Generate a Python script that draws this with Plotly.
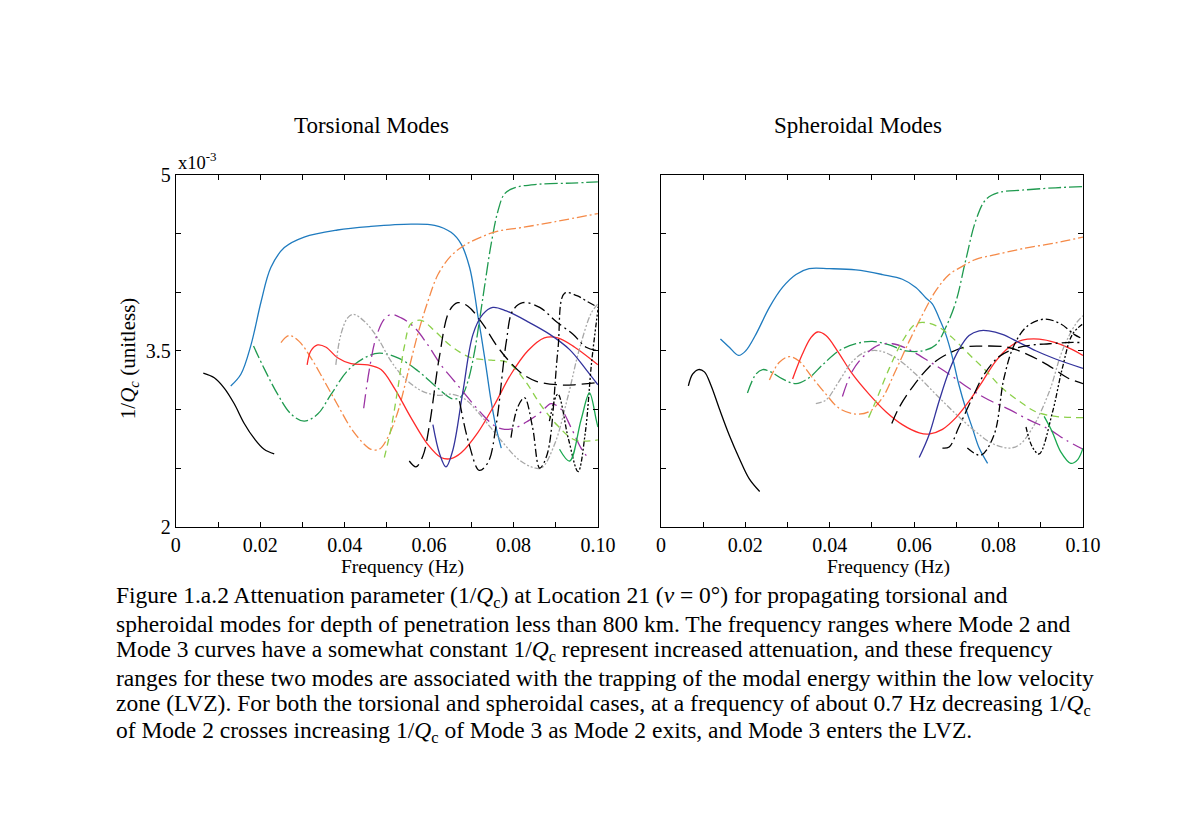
import plotly.graph_objects as go

# values of 1/Qc are in units of 1e-3, frequency in Hz
# ---- Torsional modes ----
tor_m0_x = [0.0065, 0.0091, 0.0115, 0.0138, 0.0162, 0.0186, 0.0209, 0.0233]
tor_m0_y = [3.31, 3.27, 3.18, 3.05, 2.88, 2.75, 2.66, 2.62]

tor_m1_x = [0.0130, 0.0154, 0.0178, 0.0202, 0.0225, 0.0257, 0.0304, 0.0383, 0.0462, 0.0557,
            0.0613, 0.0652, 0.0676, 0.0696, 0.0708, 0.0715, 0.0723, 0.0735, 0.0747, 0.0759, 0.0771]
tor_m1_y = [3.20, 3.30, 3.55, 3.92, 4.21, 4.38, 4.47, 4.53, 4.56, 4.58,
            4.57, 4.51, 4.41, 4.21, 3.98, 3.81, 3.64, 3.36, 3.07, 2.84, 2.67]

tor_m2_x = [0.0184, 0.0209, 0.0241, 0.0273, 0.0304, 0.0336, 0.0368, 0.0407, 0.0447, 0.0482,
            0.0526, 0.0573, 0.0621, 0.0656, 0.0676, 0.0692, 0.0708, 0.0719, 0.0731, 0.0747,
            0.0763, 0.0779, 0.0802, 0.0858, 0.0937, 0.1]
tor_m2_y = [3.54, 3.35, 3.13, 2.96, 2.90, 2.96, 3.13, 3.33, 3.44, 3.48,
            3.44, 3.33, 3.18, 3.09, 3.11, 3.24, 3.50, 3.75, 4.04, 4.41,
            4.69, 4.84, 4.89, 4.92, 4.93, 4.94]

tor_m3_x = [0.0249, 0.0269, 0.0292, 0.0320, 0.0352, 0.0383, 0.0415, 0.0447, 0.0462, 0.0482,
            0.0502, 0.0526, 0.0549, 0.0573, 0.0597, 0.0621, 0.0652, 0.0684, 0.0723, 0.0763,
            0.0818, 0.0897, 0.1]
tor_m3_y = [3.57, 3.63, 3.58, 3.44, 3.24, 3.04, 2.84, 2.70, 2.66, 2.66,
            2.76, 2.98, 3.30, 3.64, 3.92, 4.15, 4.31, 4.40, 4.47, 4.52,
            4.55, 4.60, 4.67]

tor_m4_x = [0.0311, 0.0320, 0.0336, 0.0356, 0.0383, 0.0415, 0.0455, 0.0486, 0.0518, 0.0557,
            0.0597, 0.0628, 0.0652, 0.0676, 0.0715, 0.0755, 0.0794, 0.0834, 0.0873, 0.0905,
            0.0945, 0.1]
tor_m4_y = [3.38, 3.50, 3.55, 3.53, 3.44, 3.39, 3.38, 3.34, 3.18, 2.93,
            2.70, 2.59, 2.58, 2.63, 2.80, 3.04, 3.30, 3.50, 3.61, 3.61,
            3.53, 3.38]

tor_m5_x = [0.0379, 0.0391, 0.0407, 0.0421, 0.0447, 0.0478, 0.0510, 0.0541, 0.0581, 0.0621,
            0.0652, 0.0684, 0.0715, 0.0747, 0.0779, 0.0810, 0.0842, 0.0866, 0.0897, 0.0929,
            0.0955, 0.0984, 0.1]
tor_m5_y = [3.38, 3.64, 3.78, 3.81, 3.75, 3.61, 3.41, 3.27, 3.16, 3.12,
            3.13, 3.09, 2.98, 2.84, 2.70, 2.58, 2.51, 2.50, 2.70, 3.11,
            3.50, 3.82, 3.90]

tor_m6_x = [0.0445, 0.0458, 0.0474, 0.0494, 0.0510, 0.0534, 0.0565, 0.0597, 0.0628, 0.0660,
            0.0692, 0.0723, 0.0755, 0.0779, 0.0802, 0.0834, 0.0866, 0.0889, 0.0913, 0.0937,
            0.0960, 0.0976]
tor_m6_y = [3.01, 3.33, 3.61, 3.77, 3.81, 3.78, 3.70, 3.55, 3.38, 3.24,
            3.10, 2.97, 2.86, 2.83, 2.84, 2.90, 2.98, 3.05, 3.00, 2.84,
            2.67, 2.59]

tor_m7_x = [0.0494, 0.0510, 0.0526, 0.0541, 0.0557, 0.0581, 0.0613, 0.0652, 0.0700, 0.0747,
            0.0787, 0.0826, 0.0866, 0.0905, 0.0945, 0.1]
tor_m7_y = [2.59, 2.84, 3.18, 3.53, 3.73, 3.76, 3.67, 3.54, 3.44, 3.42,
            3.40, 3.25, 3.03, 2.86, 2.74, 2.74]

tor_m8_x = [0.0553, 0.0569, 0.0585, 0.0601, 0.0624, 0.0648, 0.0668, 0.0692, 0.0727, 0.0759,
            0.0790, 0.0822, 0.0854, 0.0905, 0.0944, 0.1]
tor_m8_y = [2.56, 2.51, 2.60, 2.87, 3.44, 3.84, 3.91, 3.88, 3.73, 3.55,
            3.41, 3.30, 3.24, 3.21, 3.21, 3.23]

tor_m9_x = [0.0609, 0.0625, 0.0640, 0.0656, 0.0680, 0.0704, 0.0727, 0.0751, 0.0783, 0.0838,
            0.0886, 0.0933, 0.0972, 0.1]
tor_m9_y = [2.87, 2.62, 2.51, 2.65, 3.15, 3.64, 3.81, 3.87, 3.84, 3.74,
            3.64, 3.51, 3.34, 3.21]

tor_m10_x = [0.0672, 0.0695, 0.0719, 0.0740, 0.0759, 0.0783, 0.0798, 0.0822, 0.0862, 0.0901,
             0.0941, 0.0972, 0.1]
tor_m10_y = [3.07, 2.70, 2.48, 2.55, 2.87, 3.58, 3.84, 3.91, 3.87, 3.75,
             3.64, 3.53, 3.50]

tor_m11_x = [0.0794, 0.0810, 0.0826, 0.0845, 0.0862, 0.0880, 0.0905, 0.0921, 0.0950, 0.0975, 0.1]
tor_m11_y = [2.76, 3.02, 3.10, 2.85, 2.50, 2.62, 3.50, 3.99, 3.97, 3.92, 3.87]

tor_m12_x = [0.0885, 0.0905, 0.0930, 0.0953, 0.0970, 0.0985, 0.1]
tor_m12_y = [2.90, 3.13, 2.75, 2.47, 2.80, 3.40, 3.85]

tor_m13_x = [0.0909, 0.0933, 0.0960, 0.0980, 0.0996, 0.1]
tor_m13_y = [2.66, 2.56, 2.91, 3.14, 2.91, 2.85]

# ---- Spheroidal modes ----
sph_m0_x = [0.0065, 0.0075, 0.0089, 0.0103, 0.0118, 0.0138, 0.0162, 0.0186, 0.0209, 0.0234]
sph_m0_y = [3.20, 3.30, 3.34, 3.32, 3.21, 3.01, 2.78, 2.58, 2.41, 2.30]

sph_m1_x = [0.0141, 0.0162, 0.0184, 0.0201, 0.0225, 0.0257, 0.0288, 0.0320, 0.0351, 0.0399,
            0.0462, 0.0525, 0.0572, 0.0604, 0.0628, 0.0643, 0.0659, 0.0675, 0.0691, 0.0706,
            0.0722, 0.0738, 0.0754, 0.0774]
sph_m1_y = [3.60, 3.53, 3.46, 3.50, 3.64, 3.87, 4.04, 4.15, 4.20, 4.20,
            4.19, 4.15, 4.11, 4.04, 3.95, 3.90, 3.78, 3.64, 3.44, 3.21,
            3.01, 2.84, 2.67, 2.54]

sph_m2_x = [0.0205, 0.0225, 0.0241, 0.0260, 0.0288, 0.0320, 0.0351, 0.0383, 0.0422, 0.0462,
            0.0501, 0.0541, 0.0580, 0.0620, 0.0651, 0.0675, 0.0699, 0.0722, 0.0746, 0.0770,
            0.0801, 0.0856, 0.0935, 0.1]
sph_m2_y = [3.14, 3.30, 3.34, 3.32, 3.26, 3.22, 3.27, 3.38, 3.50, 3.56,
            3.58, 3.55, 3.50, 3.50, 3.55, 3.70, 3.92, 4.27, 4.61, 4.79,
            4.85, 4.87, 4.89, 4.90]

sph_m3_x = [0.0257, 0.0280, 0.0304, 0.0328, 0.0359, 0.0391, 0.0422, 0.0462, 0.0493, 0.0525,
            0.0556, 0.0588, 0.0620, 0.0651, 0.0683, 0.0714, 0.0746, 0.0793, 0.0856, 0.0935, 0.1]
sph_m3_y = [3.25, 3.40, 3.45, 3.41, 3.27, 3.13, 3.01, 2.96, 2.98, 3.10,
            3.33, 3.58, 3.81, 4.01, 4.15, 4.22, 4.28, 4.32, 4.37, 4.42, 4.47]

sph_m4_x = [0.0312, 0.0335, 0.0355, 0.0371, 0.0391, 0.0418, 0.0454, 0.0493, 0.0533, 0.0572,
            0.0612, 0.0635, 0.0667, 0.0699, 0.0730, 0.0762, 0.0793, 0.0825, 0.0856, 0.0896,
            0.0935, 0.0975, 0.1]
sph_m4_y = [3.26, 3.47, 3.61, 3.66, 3.63, 3.50, 3.30, 3.13, 2.98, 2.87,
            2.80, 2.79, 2.83, 2.93, 3.07, 3.24, 3.41, 3.53, 3.59, 3.60,
            3.57, 3.51, 3.46]

sph_m5_x = [0.0367, 0.0391, 0.0422, 0.0454, 0.0485, 0.0517, 0.0556, 0.0604, 0.0651, 0.0699,
            0.0746, 0.0785, 0.0825, 0.0850, 0.0880, 0.0920, 0.0951, 0.0983, 0.1]
sph_m5_y = [3.05, 3.08, 3.24, 3.41, 3.49, 3.50, 3.44, 3.30, 3.13, 2.96,
            2.81, 2.71, 2.67, 2.70, 2.84, 3.15, 3.50, 3.73, 3.80]

sph_m6_x = [0.0430, 0.0454, 0.0485, 0.0517, 0.0549, 0.0588, 0.0635, 0.0683, 0.0730, 0.0777,
            0.0825, 0.0872, 0.0920, 0.0959, 0.1]
sph_m6_y = [3.11, 3.33, 3.47, 3.55, 3.56, 3.51, 3.41, 3.30, 3.18, 3.08,
            3.00, 2.91, 2.83, 2.74, 2.66]

sph_m7_x = [0.0492, 0.0509, 0.0541, 0.0572, 0.0604, 0.0628, 0.0659, 0.0691, 0.0730, 0.0770,
            0.0809, 0.0849, 0.0888, 0.0935, 0.1]
sph_m7_y = [2.93, 3.07, 3.35, 3.58, 3.73, 3.74, 3.70, 3.61, 3.47, 3.33,
            3.18, 3.07, 2.98, 2.94, 2.93]

sph_m8_x = [0.0547, 0.0565, 0.0600, 0.0635, 0.0663, 0.0718, 0.0758, 0.0821, 0.0868, 0.0916,
            0.0963, 0.1]
sph_m8_y = [2.88, 3.02, 3.21, 3.36, 3.44, 3.53, 3.54, 3.53, 3.47, 3.38, 3.27, 3.22]

sph_m9_x = [0.0612, 0.0635, 0.0659, 0.0683, 0.0706, 0.0730, 0.0754, 0.0777, 0.0809, 0.0849,
            0.0888, 0.0935, 0.1]
sph_m9_y = [2.59, 2.78, 3.07, 3.33, 3.51, 3.63, 3.67, 3.67, 3.64, 3.57,
            3.50, 3.43, 3.35]

sph_m10_x = [0.0667, 0.0683, 0.0706, 0.0738, 0.0766, 0.0801, 0.0840, 0.0880, 0.0920, 0.0960, 0.1]
sph_m10_y = [2.67, 2.68, 2.85, 3.10, 3.30, 3.45, 3.52, 3.55, 3.56, 3.57, 3.57]

sph_m11_x = [0.0726, 0.0758, 0.0789, 0.0813, 0.0837, 0.0868, 0.0908, 0.0947, 0.0979, 0.1]
sph_m11_y = [2.67, 2.61, 2.78, 3.27, 3.55, 3.71, 3.77, 3.73, 3.64, 3.60]

sph_m12_x = [0.0865, 0.0880, 0.0896, 0.0928, 0.0951, 0.0975, 0.1]
sph_m12_y = [2.85, 2.68, 2.62, 2.98, 3.35, 3.64, 3.73]

sph_m13_x = [0.0908, 0.0927, 0.0947, 0.0971, 0.0987, 0.1]
sph_m13_y = [2.94, 2.81, 2.64, 2.54, 2.57, 2.67]

# line styles for mode 0..13
styles = [
    ('black', 'solid'),
    ('#1f7bbf', 'solid'),
    ('#1f9a4f', '13px,3px,2px,3px'),
    ('#f58a48', '10px,3px,2px,3px'),
    ('#ff2a2a', 'solid'),
    ('#a8a8a8', '6px,2px,2px,2px,2px,2px'),
    ('#9b32a3', '14px,5px,2px,5px'),
    ('#8cd04a', '7px,5px'),
    ('black', '13px,6px'),
    ('#33339c', 'solid'),
    ('black', '12px,4px,2px,4px'),
    ('black', '8px,3px,2px,3px'),
    ('black', '5px,2px,2px,2px,2px,2px'),
    ('#1aa850', 'solid'),
]

tor = [(tor_m0_x, tor_m0_y), (tor_m1_x, tor_m1_y), (tor_m2_x, tor_m2_y), (tor_m3_x, tor_m3_y),
       (tor_m4_x, tor_m4_y), (tor_m5_x, tor_m5_y), (tor_m6_x, tor_m6_y), (tor_m7_x, tor_m7_y),
       (tor_m8_x, tor_m8_y), (tor_m9_x, tor_m9_y), (tor_m10_x, tor_m10_y), (tor_m11_x, tor_m11_y),
       (tor_m12_x, tor_m12_y), (tor_m13_x, tor_m13_y)]
sph = [(sph_m0_x, sph_m0_y), (sph_m1_x, sph_m1_y), (sph_m2_x, sph_m2_y), (sph_m3_x, sph_m3_y),
       (sph_m4_x, sph_m4_y), (sph_m5_x, sph_m5_y), (sph_m6_x, sph_m6_y), (sph_m7_x, sph_m7_y),
       (sph_m8_x, sph_m8_y), (sph_m9_x, sph_m9_y), (sph_m10_x, sph_m10_y), (sph_m11_x, sph_m11_y),
       (sph_m12_x, sph_m12_y), (sph_m13_x, sph_m13_y)]

x_ticks = [0, 0.01, 0.02, 0.03, 0.04, 0.05, 0.06, 0.07, 0.08, 0.09, 0.10]
x_labels = ['0', '', '0.02', '', '0.04', '', '0.06', '', '0.08', '', '0.10']
y_ticks = [2, 2.5, 3, 3.5, 4, 4.5, 5]
y_labels = ['2', '', '', '3.5', '', '', '5']

caption = [
    'Figure 1.a.2 Attenuation parameter (1/<i>Q</i><sub>c</sub>) at Location 21 (<i>ν</i> = 0°) for propagating torsional and',
    'spheroidal modes for depth of penetration less than 800 km. The frequency ranges where Mode 2 and',
    'Mode 3 curves have a somewhat constant 1/<i>Q</i><sub>c</sub> represent increased attenuation, and these frequency',
    'ranges for these two modes are associated with the trapping of the modal energy within the low velocity',
    'zone (LVZ). For both the torsional and spheroidal cases, at a frequency of about 0.7 Hz decreasing 1/<i>Q</i><sub>c</sub>',
    'of Mode 2 crosses increasing 1/<i>Q</i><sub>c</sub> of Mode 3 as Mode 2 exits, and Mode 3 enters the LVZ.',
]

FONT = 'Liberation Serif'
# figure kept a little smaller than the window so the page does not scroll
W, H = 1184, 790
OX, OY = 8, 8
# measured mapping from page position to the captured picture
SX, AX = 0.9813, 4.3
SY, AY = 0.970, 10.7


def px(sx):
    return ((sx - AX) / SX - OX) / W


def py(sy):
    return 1 - ((sy - AY) / SY - OY) / H


fig = go.Figure()

for panel, (xa, ya) in [(tor, ('x', 'y')), (sph, ('x2', 'y2'))]:
    for (cx, cy), (col, dash) in zip(panel, styles):
        fig.add_trace(go.Scatter(
            x=cx, y=cy, mode='lines', xaxis=xa, yaxis=ya,
            line=dict(color=col, dash=dash, width=1.3, shape='spline', smoothing=1.0),
            showlegend=False, hoverinfo='skip'))

axis_common = dict(showgrid=False, zeroline=False, showline=True, linecolor='black', linewidth=1,
                   mirror='ticks', ticks='inside', ticklen=5, tickcolor='black',
                   tickfont=dict(family=FONT, size=20, color='black'))

fig.update_layout(
    width=W, height=H,
    margin=dict(l=0, r=0, t=0, b=0),
    plot_bgcolor='white', paper_bgcolor='white',
    font=dict(family=FONT, color='black'),
    xaxis=dict(domain=[px(175), px(597)], range=[0, 0.1], tickvals=x_ticks, ticktext=x_labels, **axis_common),
    yaxis=dict(domain=[py(525), py(174)], range=[2, 5], tickvals=y_ticks, ticktext=y_labels, **axis_common),
    xaxis2=dict(domain=[px(660), px(1082)], range=[0, 0.1], tickvals=x_ticks, ticktext=x_labels, anchor='y2', **axis_common),
    yaxis2=dict(domain=[py(525), py(174)], range=[2, 5], tickvals=y_ticks, ticktext=['']*7, anchor='x2', **axis_common),
)

ann = [
    dict(text='Torsional Modes', x=px(371), y=py(125), font=dict(size=23)),
    dict(text='Spheroidal Modes', x=px(857), y=py(125), font=dict(size=23)),
    dict(text='x10<sup>-3</sup>', x=px(175), y=py(160), xanchor='left', font=dict(size=18.5)),
    dict(text='Frequency (Hz)', x=px(402), y=py(565), font=dict(size=19.5)),
    dict(text='Frequency (Hz)', x=px(888), y=py(565), font=dict(size=19.5)),
    dict(text='1/<i>Q<sub>c</sub></i> (unitless)', x=px(128), y=py(357), textangle=-90, font=dict(size=21)),
]
for i, line in enumerate(caption):
    ann.append(dict(text=line, x=px(113), y=py(595 + 27*i), xanchor='left', font=dict(size=23.5)))
for a in ann:
    a.setdefault('xanchor', 'center')
    fig.add_annotation(xref='paper', yref='paper', yanchor='middle', showarrow=False,
                       font_family=FONT, **a)

fig.write_html('out.html')
